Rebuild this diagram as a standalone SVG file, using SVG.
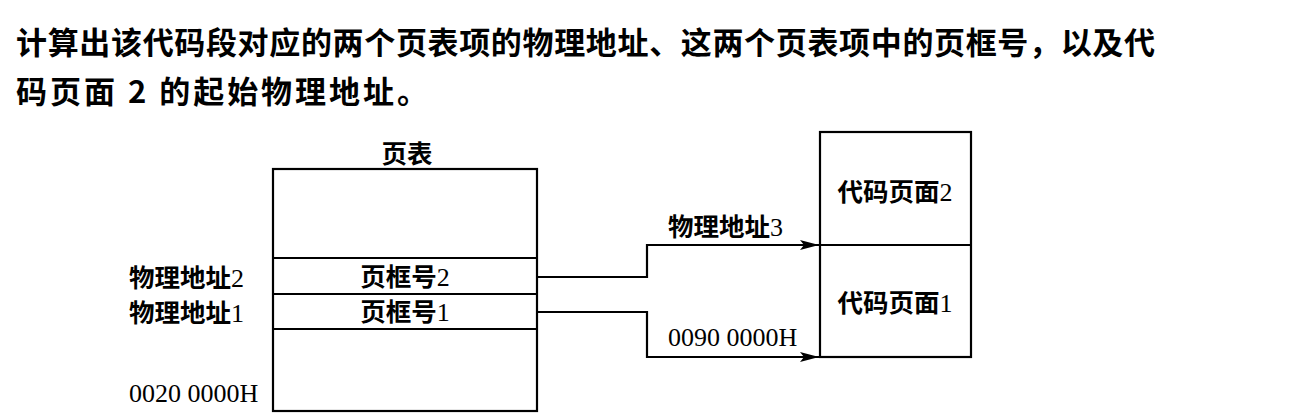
<svg xmlns="http://www.w3.org/2000/svg" width="1315" height="420" viewBox="0 0 1315 420">
  <style>
    .title { font-family: "Noto Sans CJK SC", sans-serif; font-size: 31px; font-weight: bold; fill: #000; }
    .lbl { font-family: "Liberation Serif", "Noto Sans CJK SC", serif; font-size: 26px; fill: #000; }
    .cjk { font-family: "Noto Sans CJK SC", sans-serif; font-weight: bold; font-size: 25.5px; }
    .box { fill: none; stroke: #000; stroke-width: 2.2; }
    .conn { fill: none; stroke: #000; stroke-width: 2.2; }
  </style>
  <defs>
    <marker id="arrow" markerWidth="20" markerHeight="12" refX="19" refY="6" orient="auto" markerUnits="userSpaceOnUse">
      <path d="M0,1 L19,6 L0,11 L4,6 Z" fill="#000"/>
    </marker>
  </defs>
  <rect width="1315" height="420" fill="#fff"/>

  <g id="question">
    <text class="title" x="16" y="54" textLength="1139" lengthAdjust="spacing">计算出该代码段对应的两个页表项的物理地址、这两个页表项中的页框号，以及代</text>
    <text class="title" x="16" y="103" textLength="412" lengthAdjust="spacing">码页面 2 的起始物理地址。</text>
  </g>

  <g id="page-table">
    <rect class="box" x="273" y="169" width="264" height="242"/>
    <line class="box" x1="273" y1="258" x2="537" y2="258"/>
    <line class="box" x1="273" y1="294" x2="537" y2="294"/>
    <line class="box" x1="273" y1="329" x2="537" y2="329"/>
    <text class="lbl" x="407" y="163" text-anchor="middle"><tspan class="cjk">页表</tspan></text>
    <text class="lbl" x="405" y="286" text-anchor="middle"><tspan class="cjk">页框号</tspan>2</text>
    <text class="lbl" x="405" y="321" text-anchor="middle"><tspan class="cjk">页框号</tspan>1</text>
  </g>

  <g id="left-labels">
    <text class="lbl" x="129" y="287"><tspan class="cjk">物理地址</tspan>2</text>
    <text class="lbl" x="129" y="322"><tspan class="cjk">物理地址</tspan>1</text>
    <text class="lbl" x="129" y="402">0020 0000H</text>
  </g>

  <g id="code-pages">
    <rect class="box" x="820" y="132" width="151" height="225"/>
    <line class="box" x1="820" y1="245" x2="971" y2="245"/>
    <text class="lbl" x="895" y="201" text-anchor="middle"><tspan class="cjk">代码页面</tspan>2</text>
    <text class="lbl" x="895" y="312" text-anchor="middle"><tspan class="cjk">代码页面</tspan>1</text>
  </g>

  <g id="connectors">
    <polyline class="conn" points="537,277 647,277 647,245 819,245" marker-end="url(#arrow)"/>
    <polyline class="conn" points="537,312 647,312 647,357 819,357" marker-end="url(#arrow)"/>
    <text class="lbl" x="668" y="236"><tspan class="cjk">物理地址</tspan>3</text>
    <text class="lbl" x="668" y="346">0090 0000H</text>
  </g>
</svg>
